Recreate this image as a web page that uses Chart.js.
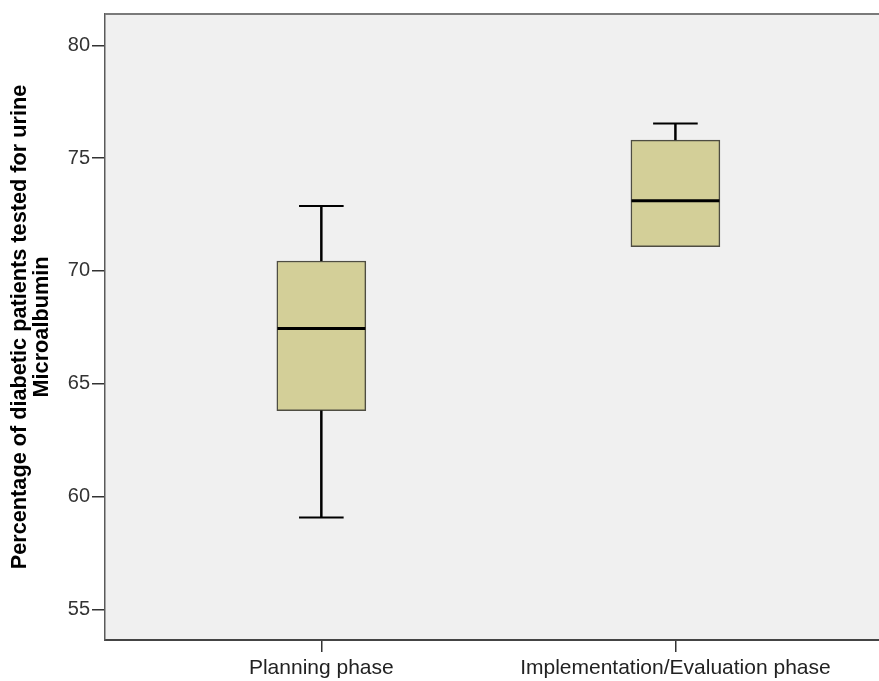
<!DOCTYPE html>
<html>
<head>
  <title>Urine Microalbumin Testing</title>
  <script src="https://cdn.jsdelivr.net/npm/chart.js"></script>
  <style>
    body { margin: 0; background: #ffffff; }
    #wrap { width: 879px; height: 681px; }
  </style>
</head>
<body>
  <div id="wrap"><canvas id="boxChart" width="879" height="681"></canvas></div>

  <script>
    // values
    const phases = ['Planning phase', 'Implementation/Evaluation phase'];
    const minVals = [59.07, 71.08];
    const q1Vals = [63.81, 71.08];
    const medianVals = [67.45, 73.11];
    const q3Vals = [70.44, 75.8];
    const maxVals = [72.88, 76.54];
    const yTicks = [55, 60, 65, 70, 75, 80];

    const boxHalf = 0.124;
    const capHalf = 0.063;

    function seg(x1, y1, x2, y2, width) {
      return {
        type: 'line',
        data: [{ x: x1, y: y1 }, { x: x2, y: y2 }],
        borderColor: '#000000',
        borderWidth: width,
        pointRadius: 0,
        fill: false,
        order: 1
      };
    }

    var datasets = [{
      type: 'bar',
      data: phases.map((p, i) => ({ x: i + 1, y: [q1Vals[i], q3Vals[i]] })),
      backgroundColor: '#d3cf98',
      borderColor: '#4e4d42',
      borderWidth: 1.5,
      borderSkipped: false,
      barThickness: 89,
      order: 2
    }];

    phases.forEach((p, i) => {
      var x = i + 1;
      if (maxVals[i] > q3Vals[i]) {
        datasets.push(seg(x, q3Vals[i], x, maxVals[i], 2.5));
        datasets.push(seg(x - capHalf, maxVals[i], x + capHalf, maxVals[i], 2));
      }
      if (minVals[i] < q1Vals[i]) {
        datasets.push(seg(x, q1Vals[i], x, minVals[i], 2.5));
        datasets.push(seg(x - capHalf, minVals[i], x + capHalf, minVals[i], 2));
      }
      datasets.push(seg(x - boxHalf, medianVals[i], x + boxHalf, medianVals[i], 3));
    });

    const plotFrame = {
      id: 'plotFrame',
      beforeDraw(chart) {
        const a = chart.chartArea, ctx = chart.ctx;
        ctx.save();
        ctx.fillStyle = '#f0f0f0';
        ctx.fillRect(a.left, a.top, a.right - a.left, a.bottom - a.top);
        ctx.restore();
      },
      afterDraw(chart) {
        const a = chart.chartArea, ctx = chart.ctx;
        ctx.save();
        ctx.strokeStyle = '#7a7a7a';
        ctx.lineWidth = 2;
        ctx.beginPath();
        ctx.moveTo(a.left, a.top);
        ctx.lineTo(a.right, a.top);
        ctx.stroke();
        ctx.restore();
      }
    };

    new Chart(document.getElementById('boxChart').getContext('2d'), {
      type: 'bar',
      data: { datasets: datasets },
      plugins: [plotFrame],
      options: {
        responsive: false,
        animation: false,
        layout: { padding: { top: 14, right: 0, left: 0, bottom: 0 } },
        plugins: {
          legend: { display: false },
          tooltip: { enabled: false }
        },
        scales: {
          x: {
            type: 'linear',
            offset: false,
            min: 0.389,
            max: 2.575,
            afterBuildTicks: (s) => { s.ticks = [{ value: 1 }, { value: 2 }]; },
            afterFit: (s) => { s.height = 41; },
            ticks: {
              autoSkip: false,
              maxRotation: 0,
              padding: 4,
              color: '#222222',
              font: { family: 'Arial, "Liberation Sans"', size: 21 },
              callback: (v) => phases[v - 1]
            },
            grid: { offset: false, drawOnChartArea: false, drawTicks: true, tickLength: 12, color: '#333333', lineWidth: 1.5 },
            border: { display: true, color: '#444444', width: 2 }
          },
          y: {
            type: 'linear',
            min: 53.64,
            max: 81.39,
            afterBuildTicks: (s) => { s.ticks = yTicks.map(v => ({ value: v })); },
            afterFit: (s) => { s.width = 105; },
            ticks: {
              padding: 2,
              color: '#333333',
              font: { family: 'Arial, "Liberation Sans"', size: 20 }
            },
            grid: { drawOnChartArea: false, drawTicks: true, tickLength: 13, color: '#333333', lineWidth: 1.5 },
            border: { display: true, color: '#5a5a5a', width: 1.5 },
            title: {
              display: true,
              text: ['Percentage of diabetic patients tested for urine', 'Microalbumin'],
              color: '#000000',
              padding: { top: 9, bottom: 0 },
              font: { family: 'Arial, "Liberation Sans"', size: 21.7, weight: 'bold', lineHeight: 22 / 21.7 }
            }
          }
        }
      }
    });
  </script>
</body>
</html>
